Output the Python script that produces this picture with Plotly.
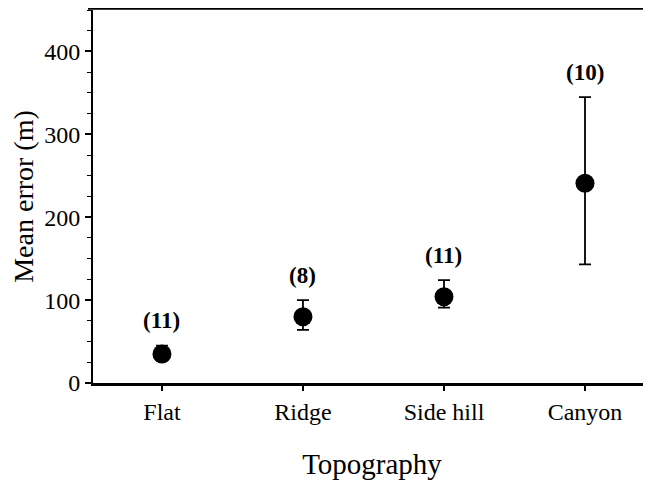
import plotly.graph_objects as go

categories = ["Flat", "Ridge", "Side hill", "Canyon"]
mean_error = [35, 80, 104, 241]
upper_error = [45, 100, 124, 345]
lower_error = [27, 64, 91, 143]
sample_sizes = ["(11)", "(8)", "(11)", "(10)"]
y_ticks = [0, 100, 200, 300, 400]

xpos = list(range(len(categories)))
err_plus = [u - m for u, m in zip(upper_error, mean_error)]
err_minus = [m - l for m, l in zip(mean_error, lower_error)]

fig = go.Figure()
fig.add_trace(go.Scatter(
    x=xpos, y=mean_error, mode="markers",
    marker=dict(color="black", size=19),
    error_y=dict(type="data", symmetric=False, array=err_plus, arrayminus=err_minus,
                 color="black", thickness=1.8, width=6),
    showlegend=False,
))

font = "Liberation Serif"
for x, u, s in zip(xpos, upper_error, sample_sizes):
    fig.add_annotation(x=x, y=u, text="<b>%s</b>" % s, showarrow=False,
                       yshift=25, font=dict(family=font, size=23, color="black"))

fig.update_layout(
    width=643, height=475,
    margin=dict(l=85, r=0, t=2, b=100),
    plot_bgcolor="white", paper_bgcolor="white",
    font=dict(family=font, color="black"),
    xaxis=dict(
        range=[-0.489, 3.468], tickvals=xpos, ticktext=categories,
        showgrid=False, zeroline=False, showline=True, linecolor="black", linewidth=3,
        ticks="outside", ticklen=5, tickwidth=1.5, tickcolor="black",
        tickfont=dict(family=font, size=24),
        title=dict(text="Topography", font=dict(family=font, size=29), standoff=30),
    ),
    yaxis=dict(
        range=[0, 450], tickvals=y_ticks,
        showgrid=False, zeroline=False, showline=True, linecolor="black", linewidth=2,
        ticks="outside", ticklen=6, tickwidth=1.5, tickcolor="black",
        tickfont=dict(family=font, size=24),
        minor=dict(dtick=25, ticks="outside", ticklen=4, tickwidth=1, tickcolor="black"),
        title=dict(text="Mean error (m)", font=dict(family=font, size=28), standoff=4),
    ),
)

fig.add_shape(type="line", xref="paper", yref="paper",
              x0=-5 / 558, x1=1, y0=1 + 1.5 / 373, y1=1 + 1.5 / 373,
              line=dict(color="black", width=2.5))

fig.write_html("out.html")
